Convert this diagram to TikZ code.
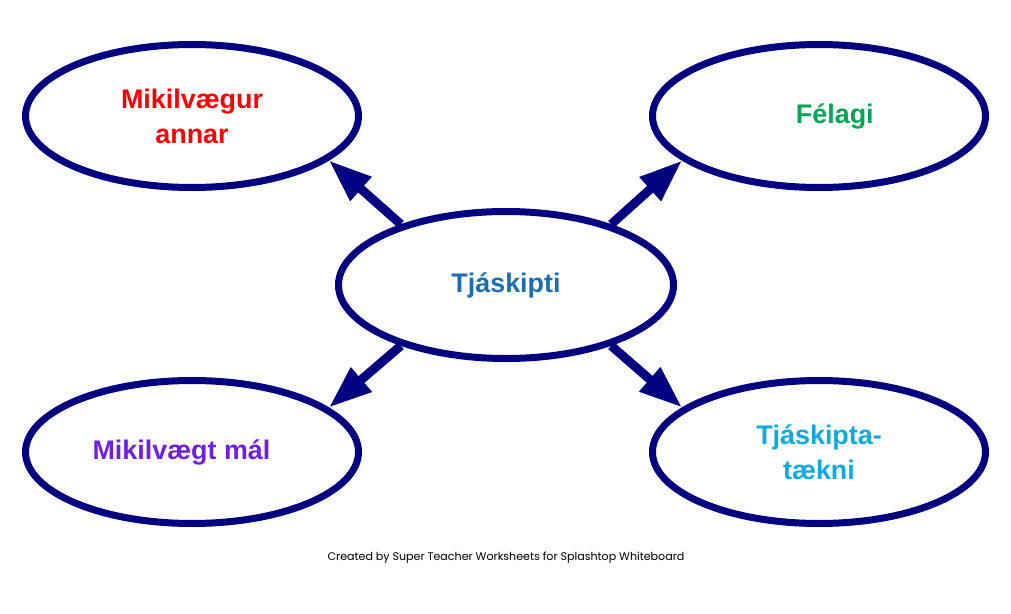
\documentclass[tikz,border=0pt]{standalone}
\usepackage{fontspec}
\setmainfont{Liberation Sans}
\newfontfamily\footfont{Poppins}
\usetikzlibrary{arrows.meta, shapes.geometric}
\definecolor{navy}{RGB}{0,0,128}
\definecolor{topicred}{RGB}{255,0,0}
\definecolor{topicgreen}{RGB}{0,166,81}
\definecolor{topicblue}{RGB}{28,110,180}
\definecolor{topicpurple}{RGB}{112,32,224}
\definecolor{topiccyan}{RGB}{16,170,226}

\begin{document}
\begin{tikzpicture}[
    x=0.2mm, y=-0.2mm,
    every node/.style={font=\fontsize{15.3}{20}\selectfont\bfseries},
    bubble/.style={draw=navy, line width=1.4mm, ellipse, inner sep=0pt, minimum width=66.6mm, minimum height=28.6mm, text=#1, align=center},
    arr/.style={-{Triangle[length=8.6mm, width=6mm]}, draw=navy, line width=1.8mm},
]
    \useasboundingbox (0,0) rectangle (1011,614);

    % Centre topic
    \node[bubble=topicblue, minimum width=67mm, minimum height=29.4mm] (comm) at (506,285) {Tj\'askipti};

    % Outer topics
    \node[bubble=topicred] (other) at (192,116) {Mikilv\ae gur\\annar};
    \node[bubble=topicgreen] (peer) at (819,116) {\hspace*{18pt}F\'elagi};
    \node[bubble=topicpurple] (lang) at (192,452) {Mikilv\ae gt m\'al\hspace*{12pt}};
    \node[bubble=topiccyan] (tech) at (819,452) {Tj\'askipta-\\t\ae kni};

    % Arrows out of the centre
    \draw[arr] (comm.150) -- (other.-18);
    \draw[arr] (comm.30) -- (peer.198);
    \draw[arr] (comm.210) -- (lang.18);
    \draw[arr] (comm.-30) -- (tech.162);

    % Footer
    \node[font=\footfont\fontsize{6.3}{8}\selectfont] (footer) at (506,558) {Created by Super Teacher Worksheets for Splashtop Whiteboard};
\end{tikzpicture}
\end{document}
